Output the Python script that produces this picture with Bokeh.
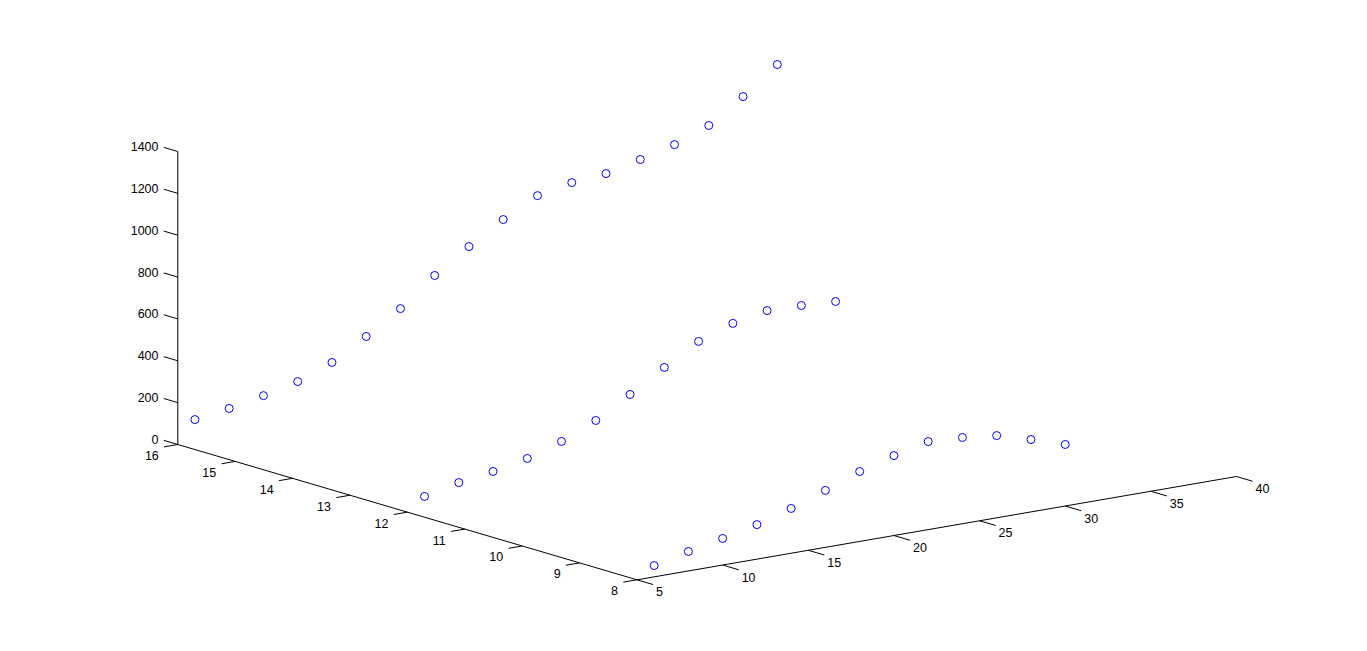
from bokeh.plotting import figure
from bokeh.embed import file_html
from bokeh.resources import INLINE
from bokeh.core.properties import value

# Data: z values for three y levels
x_short = [6, 8, 10, 12, 14, 16, 18, 20, 22, 24, 26, 28, 30]
x_long = [6, 8, 10, 12, 14, 16, 18, 20, 22, 24, 26, 28, 30, 32, 34, 36, 38, 40]
z_y8 = [54, 93, 127, 165, 214, 272, 334, 382, 421, 412, 393, 346, 294]
z_y12 = [61, 99, 124, 158, 211, 283, 379, 480, 576, 634, 667, 663, 654]
z_y16 = [105, 130, 163, 202, 265, 361, 466, 596, 706, 807, 893, 927, 942, 981, 1024, 1087, 1197, 1322]

x_ticks = [5, 10, 15, 20, 25, 30, 35, 40]
y_ticks = [8, 9, 10, 11, 12, 13, 14, 15, 16]
z_ticks = [0, 200, 400, 600, 800, 1000, 1200, 1400]


def proj(x, y, z):
    """Orthographic view of MATLAB-style 3-D axes, to page pixels."""
    px = 636.5 + (x - 5) * (1236.0 - 636.5) / 35 + (y - 8) * (177.3 - 636.5) / 8
    py = 579.3 - (x - 5) * (579.3 - 476.0) / 35 - (y - 8) * (579.3 - 444.0) / 8 - z * 293.0 / 1400
    return px, py


p = figure(width=1351, height=635, x_range=(0, 1351), y_range=(635, 0),
           output_backend="svg", toolbar_location=None,
           x_axis_location=None, y_axis_location=None, min_border=0)
p.grid.visible = False
p.outline_line_color = None
p.background_fill_color = "white"
p.border_fill_color = "white"


def seg(a, b):
    p.line([a[0], b[0]], [a[1], b[1]], line_color="black", line_width=1)


def label(pos, text, align="center"):
    p.text([pos[0]], [pos[1]], text=[text], text_font=value("Liberation Sans"),
           text_font_size="12.5px", text_color="black", text_align=align,
           text_baseline="middle")


# axis lines
seg(proj(5, 8, 0), proj(40, 8, 0))
seg(proj(5, 8, 0), proj(5, 16, 0))
seg(proj(5, 16, 0), proj(5, 16, 1400))

for t in x_ticks:
    a = proj(t, 8, 0)
    b = proj(t, 8 - 0.28, 0)
    seg(a, b)
    label((a[0] + 19, a[1] + 12), str(t), align="left")

for t in y_ticks:
    a = proj(5, t, 0)
    b = proj(5 - 0.8, t, 0)
    seg(a, b)
    label((a[0] - 19, a[1] + 11), str(t), align="right")

for t in z_ticks:
    a = proj(5, 16, t)
    b = proj(5, 16 + 0.245, t)
    seg(a, b)
    label((158, a[1] - 5), str(t), align="right")

# data
for xs, yv, zs in [(x_short, 8, z_y8), (x_short, 12, z_y12), (x_long, 16, z_y16)]:
    pts = [proj(a, yv, b) for a, b in zip(xs, zs)]
    p.scatter([q[0] for q in pts], [q[1] for q in pts], marker="circle", size=8,
              fill_color=None, line_color="#0000ff", line_width=1)

open("out.html", "w").write(file_html(p, INLINE))
